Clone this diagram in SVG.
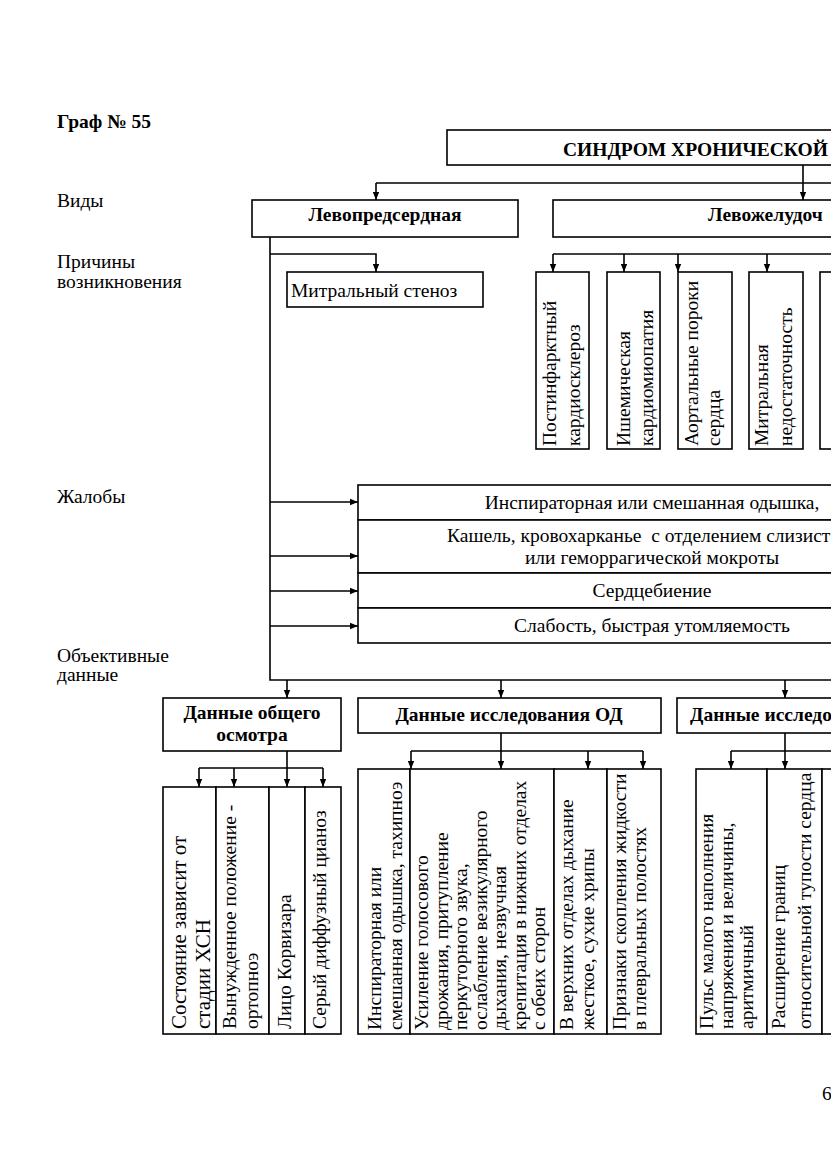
<svg xmlns="http://www.w3.org/2000/svg" width="831" height="1174" viewBox="0 0 831 1174">
<defs>
<marker id="ah" viewBox="0 0 8 8" refX="8" refY="4" markerWidth="8" markerHeight="8" markerUnits="userSpaceOnUse" orient="auto"><path d="M0,0.8 L8,4 L0,7.2 z" fill="#000"/></marker>
<style>
.box{fill:#fff;stroke:#000;stroke-width:1.6}
.ln{fill:none;stroke:#000;stroke-width:1.6}
.ar{fill:none;stroke:#000;stroke-width:1.6;marker-end:url(#ah)}
text{font-family:"Liberation Serif","Times New Roman",serif;font-size:19.5px;fill:#000}
.b{font-weight:bold}
.m{text-anchor:middle}
.lg{font-size:21px}
</style>
</defs>
<rect width="831" height="1174" fill="#fff"/>
<g id="labels">
<text class="b" x="57" y="128">Граф № 55</text>
<text x="57" y="207">Виды</text>
<text x="57" y="268">Причины</text>
<text x="57" y="288">возникновения</text>
<text x="57" y="503">Жалобы</text>
<text x="57" y="662">Объективные</text>
<text x="57" y="681">данные</text>
<text x="822" y="1100">6</text>
</g>
<g id="connectors">
<path class="ln" d="M376,183 H831"/>
<path class="ar" d="M376,183 V200"/>
<path class="ar" d="M803,165 V200"/>
<path class="ln" d="M270,237 V680 H831"/>
<path class="ar" d="M270,254 H376 V272"/>
<path class="ln" d="M553,254 H831"/>
<path class="ar" d="M553,254 V272"/>
<path class="ar" d="M624,254 V272"/>
<path class="ar" d="M678,254 V272"/>
<path class="ar" d="M767,254 V272"/>
<path class="ar" d="M270,502 H358"/>
<path class="ar" d="M270,556 H358"/>
<path class="ar" d="M270,591 H358"/>
<path class="ar" d="M270,626 H358"/>
<path class="ar" d="M287,680 V698"/>
<path class="ar" d="M501,680 V698"/>
<path class="ar" d="M785,680 V698"/>
<path class="ln" d="M287,751 V768 M199,768 H323"/>
<path class="ar" d="M199,768 V787"/>
<path class="ar" d="M234,768 V787"/>
<path class="ar" d="M287,768 V787"/>
<path class="ar" d="M323,768 V787"/>
<path class="ln" d="M501,733 V751 M411,751 H643"/>
<path class="ar" d="M411,751 V769"/>
<path class="ar" d="M501,751 V769"/>
<path class="ar" d="M588,751 V769"/>
<path class="ar" d="M643,751 V769"/>
<path class="ln" d="M785,733 V751 M731,751 H831"/>
<path class="ar" d="M731,751 V769"/>
<path class="ar" d="M785,751 V769"/>
</g>
<g id="syndrome">
<rect class="box" x="447" y="130" width="420" height="35"/>
<text class="b" x="563" y="156">СИНДРОМ ХРОНИЧЕСКОЙ</text>
</g>
<g id="left-atrial">
<rect class="box" x="252" y="200" width="266" height="37"/>
<text class="b m" x="385" y="221">Левопредсердная</text>
</g>
<g id="left-ventricular">
<rect class="box" x="553" y="200" width="320" height="37"/>
<text class="b" x="708" y="221">Левожелудоч</text>
</g>
<g id="mitral-stenosis">
<rect class="box" x="287" y="272" width="196" height="35"/>
<text x="291" y="297">Митральный стеноз</text>
</g>
<g id="cause-1">
<rect class="box" x="536" y="272" width="53" height="177"/>
<text transform="translate(556,446) rotate(-90)">Постинфарктный</text>
<text transform="translate(580,446) rotate(-90)">кардиосклероз</text>
</g>
<g id="cause-2">
<rect class="box" x="607" y="272" width="53" height="177"/>
<text transform="translate(630,446) rotate(-90)">Ишемическая</text>
<text transform="translate(653,446) rotate(-90)">кардиомиопатия</text>
</g>
<g id="cause-3">
<rect class="box" x="678" y="272" width="54" height="177"/>
<text transform="translate(698,446) rotate(-90)">Аортальные пороки</text>
<text transform="translate(720,446) rotate(-90)">сердца</text>
</g>
<g id="cause-4">
<rect class="box" x="749" y="272" width="54" height="177"/>
<text transform="translate(768,446) rotate(-90)">Митральная</text>
<text transform="translate(792,446) rotate(-90)">недостаточность</text>
</g>
<g id="cause-5">
<rect class="box" x="820" y="272" width="60" height="177"/>
</g>
<g id="complaint-1">
<rect class="box" x="358" y="485" width="520" height="35"/>
<text class="m" x="652" y="509">Инспираторная или смешанная одышка,</text>
</g>
<g id="complaint-2">
<rect class="box" x="358" y="520" width="520" height="53"/>
<text x="447" y="542" xml:space="preserve">Кашель, кровохарканье  с отделением слизист</text>
<text class="m" x="652" y="564">или геморрагической мокроты</text>
</g>
<g id="complaint-3">
<rect class="box" x="358" y="573" width="520" height="35"/>
<text class="m" x="652" y="597">Сердцебиение</text>
</g>
<g id="complaint-4">
<rect class="box" x="358" y="608" width="520" height="35"/>
<text class="m" x="652" y="632">Слабость, быстрая утомляемость</text>
</g>
<g id="general-exam">
<rect class="box" x="163" y="698" width="178" height="53"/>
<text class="b m" x="252" y="719">Данные общего</text>
<text class="b m" x="252" y="741">осмотра</text>
</g>
<g id="resp-exam">
<rect class="box" x="358" y="698" width="303" height="35"/>
<text class="b m" x="509" y="721">Данные исследования ОД</text>
</g>
<g id="cv-exam">
<rect class="box" x="677" y="698" width="200" height="35"/>
<text class="b" x="690" y="721">Данные исследо</text>
</g>
<g id="ge-1">
<rect class="box" x="163" y="787" width="53" height="247"/>
<text class="lg" transform="translate(186,1029) rotate(-90)">Состояние зависит от</text>
<text class="lg" transform="translate(210,1029) rotate(-90)">стадии ХСН</text>
</g>
<g id="ge-2">
<rect class="box" x="216" y="787" width="53" height="247"/>
<text transform="translate(236,1029) rotate(-90)">Вынужденное положение -</text>
<text transform="translate(258,1029) rotate(-90)">ортопноэ</text>
</g>
<g id="ge-3">
<rect class="box" x="269" y="787" width="36" height="247"/>
<text transform="translate(291,1029) rotate(-90)">Лицо Корвизара</text>
</g>
<g id="ge-4">
<rect class="box" x="305" y="787" width="36" height="247"/>
<text transform="translate(326,1029) rotate(-90)">Серый диффузный цианоз</text>
</g>
<g id="re-1">
<rect class="box" x="358" y="769" width="52" height="265"/>
<text transform="translate(381,1030) rotate(-90)">Инспираторная или</text>
<text transform="translate(402,1030) rotate(-90)">смешанная одышка, тахипноэ</text>
</g>
<g id="re-2">
<rect class="box" x="410" y="769" width="144" height="265"/>
<text transform="translate(428,1030) rotate(-90)">Усиление голосового</text>
<text transform="translate(447.5,1030) rotate(-90)">дрожания, притупление</text>
<text transform="translate(467,1030) rotate(-90)">перкуторного звука,</text>
<text transform="translate(486.5,1030) rotate(-90)">ослабление везикулярного</text>
<text transform="translate(506,1030) rotate(-90)">дыхания, незвучная</text>
<text transform="translate(525.5,1030) rotate(-90)">крепитация в нижних отделах</text>
<text transform="translate(545,1030) rotate(-90)">с обеих сторон</text>
</g>
<g id="re-3">
<rect class="box" x="554" y="769" width="53" height="265"/>
<text transform="translate(573,1030) rotate(-90)">В верхних отделах дыхание</text>
<text transform="translate(594,1030) rotate(-90)">жесткое, сухие хрипы</text>
</g>
<g id="re-4">
<rect class="box" x="607" y="769" width="54" height="265"/>
<text transform="translate(626,1030) rotate(-90)">Признаки скопления жидкости</text>
<text transform="translate(646,1030) rotate(-90)">в плевральных полостях</text>
</g>
<g id="cv-1">
<rect class="box" x="696" y="769" width="71" height="265"/>
<text transform="translate(713,1029) rotate(-90)">Пульс малого наполнения</text>
<text transform="translate(733,1029) rotate(-90)">напряжения и величины,</text>
<text transform="translate(753,1029) rotate(-90)">аритмичный</text>
</g>
<g id="cv-2">
<rect class="box" x="767" y="769" width="55" height="265"/>
<text transform="translate(785,1029) rotate(-90)">Расширение границ</text>
<text transform="translate(811,1029) rotate(-90)">относительной тупости сердца</text>
</g>
<g id="cv-3">
<rect class="box" x="822" y="769" width="60" height="265"/>
</g>
</svg>
